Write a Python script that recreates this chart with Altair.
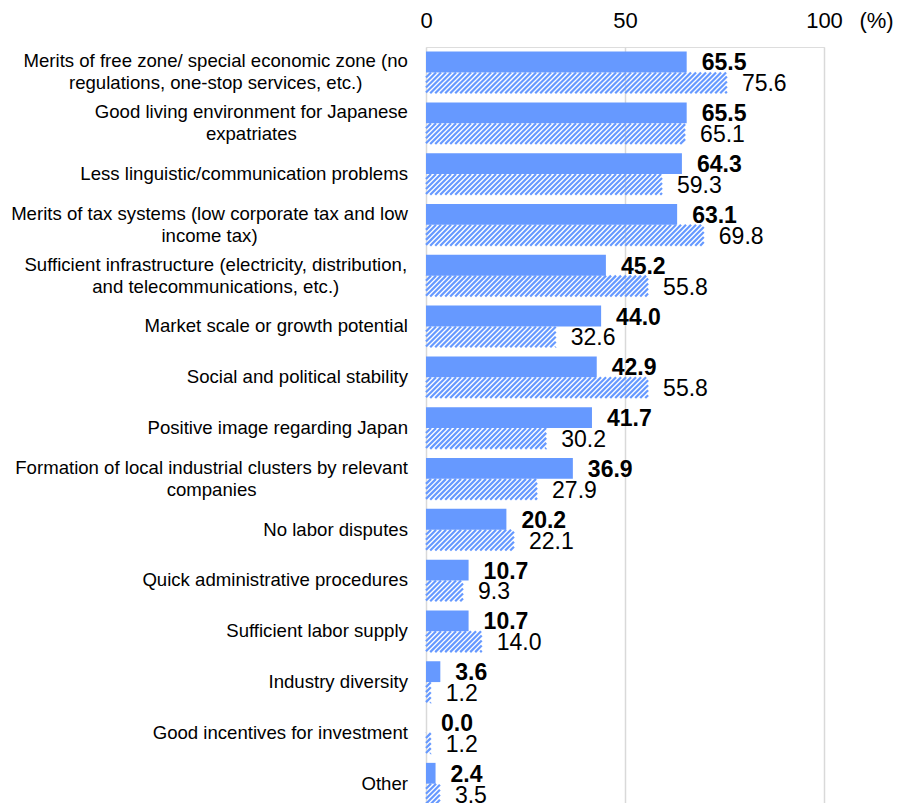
import altair as alt
import pandas as pd

# ---------------- data ----------------
categories = [
    "Merits of free zone/ special economic zone (no\nregulations, one-stop services, etc.)",
    "Good living environment for Japanese\nexpatriates",
    "Less linguistic/communication problems",
    "Merits of tax systems (low corporate tax and low\nincome tax)",
    "Sufficient infrastructure (electricity, distribution,\nand telecommunications, etc.)",
    "Market scale or growth potential",
    "Social and political stability",
    "Positive image regarding Japan",
    "Formation of local industrial clusters by relevant\ncompanies",
    "No labor disputes",
    "Quick administrative procedures",
    "Sufficient labor supply",
    "Industry diversity",
    "Good incentives for investment",
    "Other",
]
solid_values = [65.5, 65.5, 64.3, 63.1, 45.2, 44.0, 42.9, 41.7, 36.9, 20.2, 10.7, 10.7, 3.6, 0.0, 2.4]
hatched_values = [75.6, 65.1, 59.3, 69.8, 55.8, 32.6, 55.8, 30.2, 27.9, 22.1, 9.3, 14.0, 1.2, 1.2, 3.5]
x_ticks = [0, 50, 100]

# ---------------- style ----------------
FONT = "Liberation Sans"
BLUE = "#6699FF"
CAT_SIZE = 18.6
CAT_LH = 22
VAL_SIZE = 23
W, H = 398, 756
PAD_L, PAD_T = 426, 47
Y_DOMAIN = [-0.5, 14.38]
BAR_H = 0.41          # bar thickness in category steps
PX_X = W / 100.0
PX_Y = H / (Y_DOMAIN[1] - Y_DOMAIN[0])
HATCH_D = BAR_H * PX_Y / PX_X   # 45 degree stripes
HATCH_P = 5.0 / PX_X            # stripe period (5 px)
LABEL_GAP = 18

# Arial / Liberation Sans advance widths (1/1000 em) to centre wrapped lines
_w = {" ": 278, "(": 333, ")": 333, ",": 278, "-": 333, ".": 278, "/": 278}
_w.update({d: 556 for d in "0123456789"})
_w.update(dict(zip("ABCDEFGHIJKLMNOPQRSTUVWXYZ",
                   [667, 667, 722, 722, 667, 611, 778, 722, 278, 500, 667, 556, 833,
                    722, 778, 667, 778, 722, 667, 611, 722, 667, 944, 667, 667, 611])))
_w.update(dict(zip("abcdefghijklmnopqrstuvwxyz",
                   [556, 556, 500, 556, 556, 278, 556, 556, 222, 222, 500, 222, 833,
                    556, 556, 556, 556, 333, 500, 278, 556, 500, 722, 500, 500, 500])))


def first_line_px(s):
    line = s.split("\n")[0]
    return sum(_w.get(c, 556) for c in line) * CAT_SIZE / 1000.0


df = pd.DataFrame({
    "idx": list(range(len(categories))),
    "cat": categories,
    "solid": solid_values,
    "hatched": hatched_values,
})
df["xc"] = [-(LABEL_GAP + first_line_px(c) / 2) / PX_X for c in categories]
df["yc"] = [i - (c.count("\n") * CAT_LH / 2) / PX_Y for i, c in enumerate(categories)]

xscale = alt.Scale(domain=[0, 100], nice=False, zero=False)
yscale = alt.Scale(domain=Y_DOMAIN, reverse=True, nice=False, zero=False)
xaxis = alt.Axis(
    orient="top", values=x_ticks, grid=True, gridColor="#D9D9D9", gridWidth=1.5,
    domain=False, ticks=False, tickSize=0, labelFontSize=22, labelColor="black",
    labelFont=FONT, labelPadding=27, labelBaseline="middle", labelFlush=False,
    labelAlign="center", labelOverlap=False,
    title="(%)", titleX=450, titleY=-27, titleAngle=0, titleAlign="center",
    titleBaseline="middle", titleFontSize=22, titleFontWeight="normal",
    titleColor="black", titleFont=FONT,
)


def X(field):
    return alt.X(field, type="quantitative", scale=xscale, axis=xaxis)


def Y(field):
    return alt.Y(field, type="quantitative", scale=yscale, axis=None)


base = alt.Chart(df)

solid_bars = base.transform_calculate(
    y0=f"datum.idx - {BAR_H}", y1="datum.idx", zero="0"
).mark_rect(color=BLUE).encode(
    x=X("zero"), x2="solid:Q", y=Y("y0"), y2="y1:Q"
)

hatch = base.transform_calculate(
    seq=f"sequence({-HATCH_D + 0.01}, datum.hatched, {HATCH_P})"
).transform_flatten(["seq"], as_=["x0"]).transform_calculate(
    tmin=f"max(0, -datum.x0 / {HATCH_D})",
    tmax=f"min(1, (datum.hatched - datum.x0) / {HATCH_D})",
).transform_filter("datum.tmax > datum.tmin").transform_calculate(
    xs=f"datum.x0 + datum.tmin * {HATCH_D}",
    xe=f"datum.x0 + datum.tmax * {HATCH_D}",
    ys=f"datum.idx + {BAR_H} * (1 - datum.tmin)",
    ye=f"datum.idx + {BAR_H} * (1 - datum.tmax)",
).mark_rule(color=BLUE, strokeWidth=2.2, strokeCap="butt").encode(
    x=X("xs"), x2="xe:Q", y=Y("ys"), y2="ye:Q"
)

solid_text = base.transform_calculate(
    lab="format(datum.solid, '.1f')", yy=f"datum.idx - {BAR_H / 2}"
).mark_text(align="left", baseline="middle", dx=15, dy=1.5, font=FONT,
            fontSize=VAL_SIZE, fontWeight="bold", color="black").encode(
    x=X("solid"), y=Y("yy"), text="lab:N"
)

hatch_text = base.transform_calculate(
    lab="format(datum.hatched, '.1f')", yy=f"datum.idx + {BAR_H / 2}"
).mark_text(align="left", baseline="middle", dx=15, dy=1.5, font=FONT,
            fontSize=VAL_SIZE, color="black").encode(
    x=X("hatched"), y=Y("yy"), text="lab:N"
)

cat_text = base.mark_text(align="center", baseline="middle", font=FONT,
                          fontSize=CAT_SIZE, lineBreak="\n", lineHeight=CAT_LH,
                          color="black").encode(
    x=X("xc"), y=Y("yc"), text="cat:N"
)

chart = alt.layer(solid_bars, hatch, solid_text, hatch_text, cat_text).properties(
    width=W, height=H,
    autosize=alt.AutoSizeParams(type="none"),
    padding={"left": PAD_L, "top": PAD_T, "right": 898 - PAD_L - W, "bottom": 803 - PAD_T - H},
    background="white",
).configure_view(stroke=None).configure(font=FONT)

chart.save("out.html", embed_options={"renderer": "svg", "actions": False})
